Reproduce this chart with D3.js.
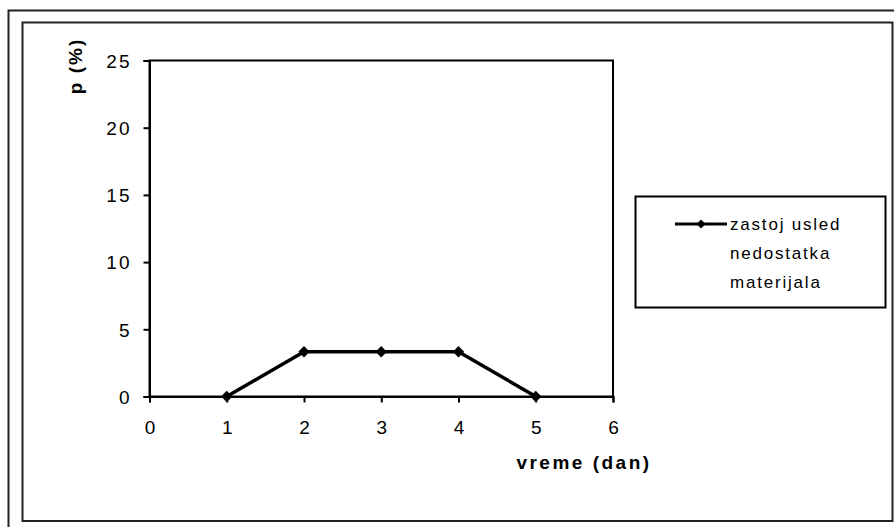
<!DOCTYPE html>
<html>
<head>
<meta charset="utf-8">
<script src="https://cdn.jsdelivr.net/npm/d3@7"></script>
<style>
  html, body { margin: 0; padding: 0; background: #fff; }
  svg { display: block; }
  text { font-family: Arial, "Liberation Sans", sans-serif; fill: #000; }
</style>
</head>
<body>
<svg id="chart" width="894" height="527"></svg>
<script>
// Days and downtime share (%)
const days = [1, 2, 3, 4, 5];
const downtime = [0, 3.33, 3.33, 3.33, 0];
const xTicks = [0, 1, 2, 3, 4, 5, 6];
const yTicks = [0, 5, 10, 15, 20, 25];
const seriesName = ["zastoj usled", "nedostatka", "materijala"];
const xTitle = "vreme (dan)";
const yTitle = "p (%)";

const svg = d3.select("#chart");

// Outer and inner frames
svg.append("path")
  .attr("d", "M8.5,600 V10.5 H1000")
  .attr("fill", "none").attr("stroke", "#222").attr("stroke-width", 2);
svg.append("rect")
  .attr("x", 22.5).attr("y", 22.5).attr("width", 870).attr("height", 498.5)
  .attr("fill", "#fff").attr("stroke", "#222").attr("stroke-width", 2);

const plot = { left: 149.5, top: 60.5, right: 613, bottom: 396.5 };

const x = d3.scaleLinear().domain([0, 6]).range([plot.left, plot.right]);
const y = d3.scaleLinear().domain([0, 25]).range([plot.bottom, plot.top]);

// Plot area border
svg.append("rect")
  .attr("x", plot.left).attr("y", plot.top)
  .attr("width", plot.right - plot.left).attr("height", plot.bottom - plot.top)
  .attr("fill", "none").attr("stroke", "#000").attr("stroke-width", 2);

// Axes
const xAxis = d3.axisBottom(x).tickValues(xTicks).tickSize(6).tickPadding(18)
  .tickFormat(d3.format("d"));
const yAxis = d3.axisLeft(y).tickValues(yTicks).tickSize(6).tickPadding(12)
  .tickFormat(d3.format("d"));

const gx = svg.append("g").attr("transform", `translate(0,${plot.bottom})`).call(xAxis);
const gy = svg.append("g").attr("transform", `translate(${plot.left},0)`).call(yAxis);
[gx, gy].forEach(g => {
  g.attr("font-size", null).attr("font-family", null);
  g.select(".domain").attr("stroke", "#000").attr("stroke-width", 2);
  g.selectAll(".tick line").attr("stroke", "#000").attr("stroke-width", 2);
  g.selectAll(".tick text")
    .style("font-size", "19px")
    .style("letter-spacing", "2px")
    .style("font-family", "Arial, 'Liberation Sans', sans-serif")
    .attr("fill", "#333");
});
gy.selectAll(".tick text").attr("dy", "0.36em");
gx.selectAll(".tick text").attr("dx", "1px");

// Axis titles
svg.append("text")
  .attr("x", 584).attr("y", 469)
  .attr("text-anchor", "middle")
  .style("font-size", "19px").style("font-weight", "bold")
  .style("letter-spacing", "2.5px")
  .text(xTitle);
svg.append("text")
  .attr("transform", "translate(82,66) rotate(-90)")
  .attr("text-anchor", "middle")
  .style("font-size", "19px").style("font-weight", "bold")
  .style("letter-spacing", "2px")
  .text(yTitle);

// Series line and markers
const pts = days.map((d, i) => [d, downtime[i]]);
svg.append("path")
  .datum(pts)
  .attr("d", d3.line().x(d => x(d[0])).y(d => y(d[1])))
  .attr("fill", "none").attr("stroke", "#000").attr("stroke-width", 3.5);
const marker = d3.symbol().type(d3.symbolSquare).size(64);
svg.selectAll(".pt").data(pts).enter().append("path")
  .attr("class", "pt")
  .attr("transform", d => `translate(${x(d[0])},${y(d[1])}) rotate(45)`)
  .attr("d", marker).attr("fill", "#000");

// Legend
const lg = svg.append("g");
lg.append("rect")
  .attr("x", 635.5).attr("y", 196.5).attr("width", 250).attr("height", 111)
  .attr("fill", "#fff").attr("stroke", "#000").attr("stroke-width", 2);
lg.append("line")
  .attr("x1", 675).attr("x2", 727).attr("y1", 224).attr("y2", 224)
  .attr("stroke", "#000").attr("stroke-width", 3);
lg.append("path")
  .attr("transform", "translate(701,224) rotate(45)")
  .attr("d", d3.symbol().type(d3.symbolSquare).size(40)).attr("fill", "#000");
lg.selectAll(".lt").data(seriesName).enter().append("text")
  .attr("class", "lt")
  .attr("x", 730).attr("y", (d, i) => 224 + i * 28.8)
  .attr("dy", "0.35em")
  .style("font-size", "17px").style("letter-spacing", "1.8px")
  .attr("fill", "#222")
  .text(d => d);
</script>
</body>
</html>
